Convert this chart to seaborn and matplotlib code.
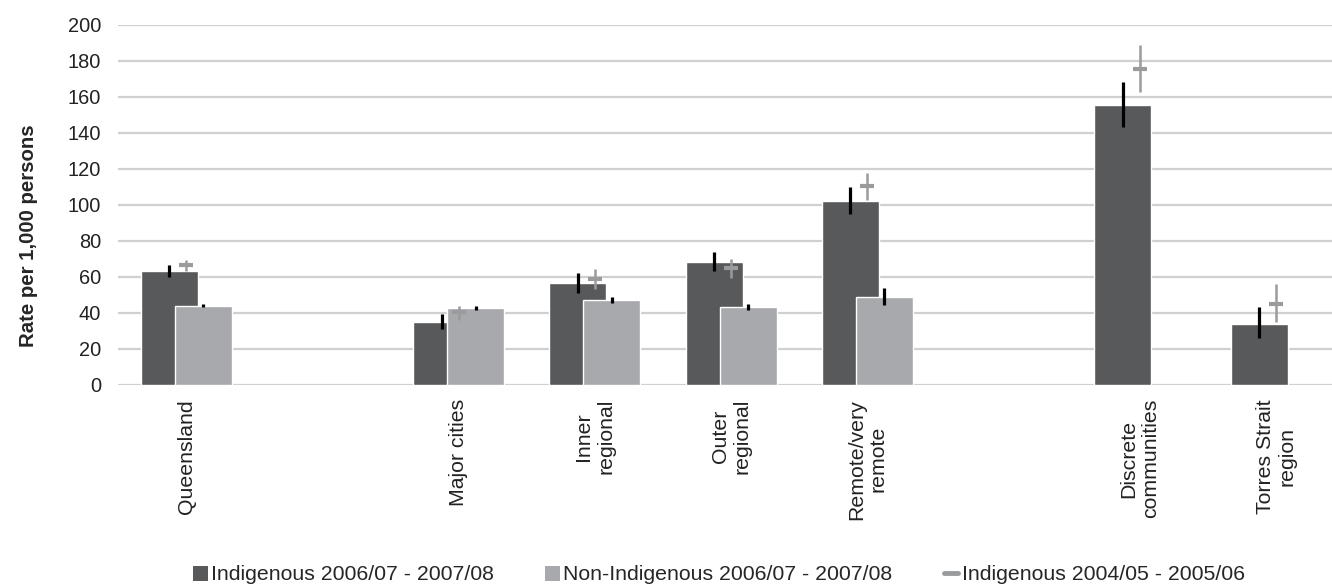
import matplotlib
matplotlib.use("Agg")
import matplotlib.pyplot as plt
import seaborn as sns
import numpy as np
import pandas as pd
from matplotlib.patches import Patch
from matplotlib.lines import Line2D

# Categories (blank slots give the gaps between groups)
categories = ["Queensland", "", "Major cities", "Inner\nregional", "Outer\nregional",
              "Remote/very\nremote", "", "Discrete\ncommunities", "Torres Strait\nregion"]

# Indigenous 2006/07 - 2007/08
ind_pos = [0, 2, 3, 4, 5, 7, 8]
ind_val = [63.3, 35.0, 56.7, 68.3, 102.2, 155.6, 33.9]
ind_lo = [60.2, 31.3, 51.3, 63.1, 94.8, 143.3, 25.9]
ind_hi = [66.7, 39.4, 62.4, 74.0, 109.8, 168.2, 43.5]

# Non-Indigenous 2006/07 - 2007/08
non_pos = [0, 2, 3, 4, 5]
non_val = [43.9, 42.8, 47.2, 43.3, 48.9]
non_lo = [43.1, 41.5, 45.7, 41.5, 44.6]
non_hi = [45.0, 44.0, 49.0, 45.0, 54.0]

# Indigenous 2004/05 - 2005/06
old_pos = [0, 2, 3, 4, 5, 7, 8]
old_val = [66.7, 40.4, 58.9, 65.0, 110.6, 175.4, 44.8]
old_lo = [63.5, 36.0, 53.1, 59.4, 103.0, 162.6, 35.2]
old_hi = [69.4, 44.0, 64.6, 70.2, 118.0, 188.9, 55.9]

yticks = list(range(0, 201, 20))

c_ind = "#58595b"
c_non = "#a7a9ac"
c_old = "#9a9b9d"

sns.set_theme(style="white")
plt.rcParams["font.family"] = ["Liberation Sans", "DejaVu Sans"]

fig = plt.figure(figsize=(13.32, 5.85), dpi=100)
ax = fig.add_axes([118 / 1332, 200 / 585, 1214 / 1332, 360 / 585])

off = 0.125
bw = 0.418

df_ind = pd.DataFrame({"x": np.array(ind_pos) - off, "y": ind_val})
df_non = pd.DataFrame({"x": np.array(non_pos) + off, "y": non_val})

# Indigenous bars sit behind the overlapping non-Indigenous bars
sns.barplot(data=df_ind, x="x", y="y", native_scale=True, orient="x", width=bw,
            color=c_ind, saturation=1, errorbar=None, ax=ax, zorder=2)
ax.vlines(df_ind["x"], ind_lo, ind_hi, color="black", lw=2.3, zorder=3)

sns.barplot(data=df_non, x="x", y="y", native_scale=True, orient="x", width=bw,
            color=c_non, saturation=1, errorbar=None, ax=ax, zorder=4)
ax.vlines(df_non["x"], non_lo, non_hi, color="black", lw=2.3, zorder=5)

# earlier period shown as a dash with its interval
old_val_a = np.array(old_val)
ax.errorbar(old_pos, old_val_a,
            yerr=[old_val_a - np.array(old_lo), np.array(old_hi) - old_val_a],
            fmt="_", ms=10, mew=3, color=c_old, ecolor=c_old, elinewidth=1.8,
            capsize=0, zorder=6)

ax.set_xlim(-0.5, 8.41)
ax.set_ylim(0, 200)
ax.set_yticks(yticks)
ax.set_yticklabels([str(t) for t in yticks], fontsize=14.4, color="#222222")
ax.set_xticks(range(len(categories)))
ax.set_xticklabels(categories, rotation=90, fontsize=15.3, color="#222222",
                   ha="center", va="top", multialignment="center")
ax.tick_params(axis="y", length=0, pad=12)
ax.tick_params(axis="x", length=0, pad=10)
ax.set_xlabel("")
ax.set_ylabel("Rate per 1,000 persons", fontsize=14.7, fontweight="bold")
ax.yaxis.set_label_coords(-0.066, 0.414)

ax.grid(axis="y", color="#d0d0d0", lw=1.6, zorder=0)
ax.set_axisbelow(True)
for s in ["top", "right", "left", "bottom"]:
    ax.spines[s].set_visible(False)

handles = [
    Patch(facecolor=c_ind, edgecolor="none", label="Indigenous 2006/07 - 2007/08"),
    Patch(facecolor=c_non, edgecolor="none", label="Non-Indigenous 2006/07 - 2007/08"),
    Line2D([0], [0], color=c_old, lw=3.5, label="Indigenous 2004/05 - 2005/06"),
]
fig.legend(handles=handles, loc="center", bbox_to_anchor=(719 / 1332, 10 / 585),
           ncol=3, frameon=False, fontsize=15.3, handlelength=0.7, handleheight=0.7,
           handletextpad=0.15, columnspacing=2.4, borderpad=0.1)

fig.savefig("out.png", dpi=100)
